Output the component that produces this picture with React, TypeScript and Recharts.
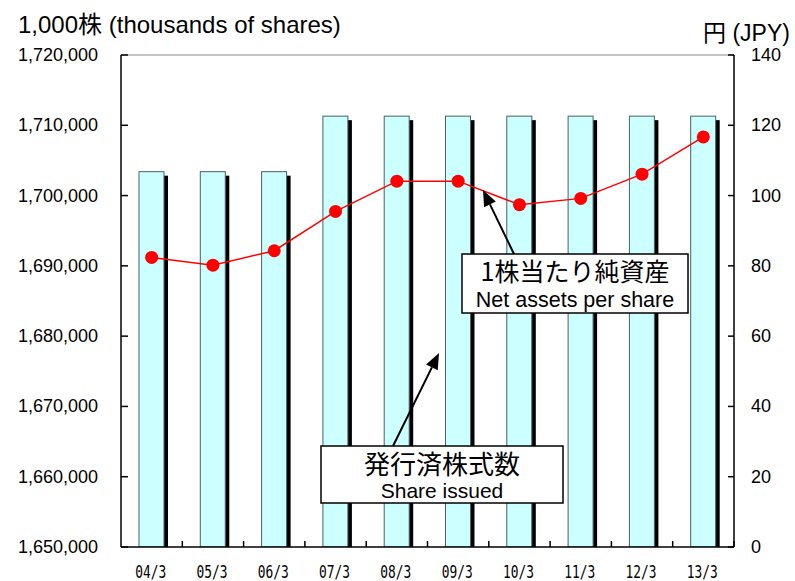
import React from 'react';
import { ComposedChart, Bar, Line, XAxis, YAxis, ReferenceLine } from 'recharts';

const categories = ['04/3', '05/3', '06/3', '07/3', '08/3', '09/3', '10/3', '11/3', '12/3', '13/3'];
const sharesIssued = [1703400, 1703400, 1703400, 1711300, 1711300, 1711300, 1711300, 1711300, 1711300, 1711300];
const netAssetsPerShare = [82.4, 80.2, 84.3, 95.5, 104.1, 104.1, 97.4, 99.2, 106.1, 116.7];
const leftTicks = [1650000, 1660000, 1670000, 1680000, 1690000, 1700000, 1710000, 1720000];
const rightTicks = [0, 20, 40, 60, 80, 100, 120, 140];

const data = categories.map((c, i) => ({ category: c, shares: sharesIssued[i], nav: netAssetsPerShare[i] }));

const LATIN = "'Liberation Sans', Arial, 'Noto Sans CJK JP', sans-serif";
const CJK = "'Noto Sans CJK JP', sans-serif";

const ShadowBar = (props: any) => {
  const { x, y, width, height } = props;
  if (height == null || height <= 0) return null;
  return (
    <g>
      <rect x={x + 4} y={y + 4} width={width} height={height - 3} fill="#000" />
      <rect x={x} y={y} width={width} height={height} fill="#CCFFFF" stroke="#4A6262" strokeWidth={1} />
    </g>
  );
};

const LeftTick = (props: any) => {
  const { x, y, payload } = props;
  return (
    <g>
      <line x1={x} y1={y} x2={x + 7} y2={y} stroke="#000" strokeWidth={1.5} />
      <text x={x - 23} y={y} dy={6} textAnchor="end" fontSize={18} fontFamily={LATIN} fill="#000">
        {Number(payload.value).toLocaleString('en-US')}
      </text>
    </g>
  );
};

const RightTick = (props: any) => {
  const { x, y, payload } = props;
  return (
    <g>
      <line x1={x - 6} y1={y} x2={x} y2={y} stroke="#000" strokeWidth={1.5} />
      <text x={x + 17} y={y} dy={6} textAnchor="start" fontSize={18} fontFamily={LATIN} fill="#000">
        {payload.value}
      </text>
    </g>
  );
};

const XTick = (props: any) => {
  const { x, y, payload, width } = props;
  const half = payload && payload.offset ? payload.offset : (width || 613) / 20;
  const bx = x + half;
  return (
    <g>
      <line x1={bx} y1={y} x2={bx} y2={y - 6} stroke="#000" strokeWidth={1.5} />
      <text x={x - 1} y={y + 31} textAnchor="middle" fontSize={18} fontFamily="'DejaVu Sans Mono', monospace" fill="#000" textLength={31} lengthAdjust="spacingAndGlyphs">
        {payload.value}
      </text>
    </g>
  );
};

const Arrow = ({ x1, y1, x2, y2 }: { x1: number; y1: number; x2: number; y2: number }) => {
  const dx = x2 - x1;
  const dy = y2 - y1;
  const len = Math.sqrt(dx * dx + dy * dy);
  const ux = dx / len;
  const uy = dy / len;
  const hl = 16;
  const hw = 6.5;
  const bx = x2 - ux * hl;
  const by = y2 - uy * hl;
  const px = -uy;
  const py = ux;
  return (
    <g>
      <line x1={x1} y1={y1} x2={bx} y2={by} stroke="#000" strokeWidth={2} />
      <polygon points={`${x2},${y2} ${bx + px * hw},${by + py * hw} ${bx - px * hw},${by - py * hw}`} fill="#000" />
    </g>
  );
};

export default function App() {
  return (
    <div style={{ position: 'absolute', left: 0, top: 0, width: 795, height: 581, background: '#fff' }}>
      <ComposedChart width={795} height={581} data={data} margin={{ top: 55, right: 0, bottom: 0, left: 0 }} barCategoryGap={0}>
        <XAxis
          dataKey="category"
          xAxisId="x"
          height={34}
          tickSize={0}
          tickMargin={0}
          tickLine={false}
          axisLine={{ stroke: '#000', strokeWidth: 1.5 }}
          tick={<XTick />}
          interval={0}
        />
        <YAxis
          yAxisId="left"
          orientation="left"
          width={121}
          domain={[1650000, 1720000]}
          ticks={leftTicks}
          allowDataOverflow
          tickSize={0}
          tickMargin={0}
          tickLine={false}
          axisLine={{ stroke: '#000', strokeWidth: 1.5 }}
          tick={<LeftTick />}
          interval={0}
        />
        <YAxis
          yAxisId="right"
          orientation="right"
          width={61}
          domain={[0, 140]}
          ticks={rightTicks}
          tickSize={0}
          tickMargin={0}
          tickLine={false}
          axisLine={{ stroke: '#000', strokeWidth: 1.5 }}
          tick={<RightTick />}
          interval={0}
        />
        <ReferenceLine xAxisId="x" yAxisId="left" y={1720000} stroke="#B0B0B0" strokeWidth={1.5} />
        <Bar xAxisId="x" yAxisId="left" dataKey="shares" barSize={25} shape={<ShadowBar />} isAnimationActive={false} />
        <Line
          xAxisId="x"
          yAxisId="right"
          dataKey="nav"
          stroke="#FF0000"
          strokeWidth={1.5}
          dot={{ r: 6.5, fill: '#FF0000', stroke: '#FF0000', strokeWidth: 0 }}
          activeDot={false}
          isAnimationActive={false}
        />
      </ComposedChart>
      <svg width={795} height={581} style={{ position: 'absolute', left: 0, top: 0, pointerEvents: 'none' }}>
        <text x={18} y={33} fontSize={24} fontFamily={LATIN} fill="#000">1,000株 (thousands of shares)</text>
        <text x={703} y={41} fontSize={23} fontFamily={LATIN} fill="#000">円 (JPY)</text>

        <Arrow x1={514} y1={254} x2={483} y2={190} />
        <rect x={462} y={254} width={226} height={59} fill="#fff" stroke="#000" strokeWidth={1.5} />
        <text x={575} y={281} textAnchor="middle" fontSize={25} fontFamily={CJK} fill="#000">1株当たり純資産</text>
        <text x={575} y={307} textAnchor="middle" fontSize={21.5} fontFamily={LATIN} fill="#000">Net assets per share</text>

        <Arrow x1={393} y1={446} x2={439} y2={353} />
        <rect x={321} y={446} width={242} height={57} fill="#fff" stroke="#000" strokeWidth={1.5} />
        <text x={442} y={474} textAnchor="middle" fontSize={26} fontFamily={CJK} fill="#000">発行済株式数</text>
        <text x={442} y={498} textAnchor="middle" fontSize={21} fontFamily={LATIN} fill="#000">Share issued</text>
      </svg>
    </div>
  );
}
